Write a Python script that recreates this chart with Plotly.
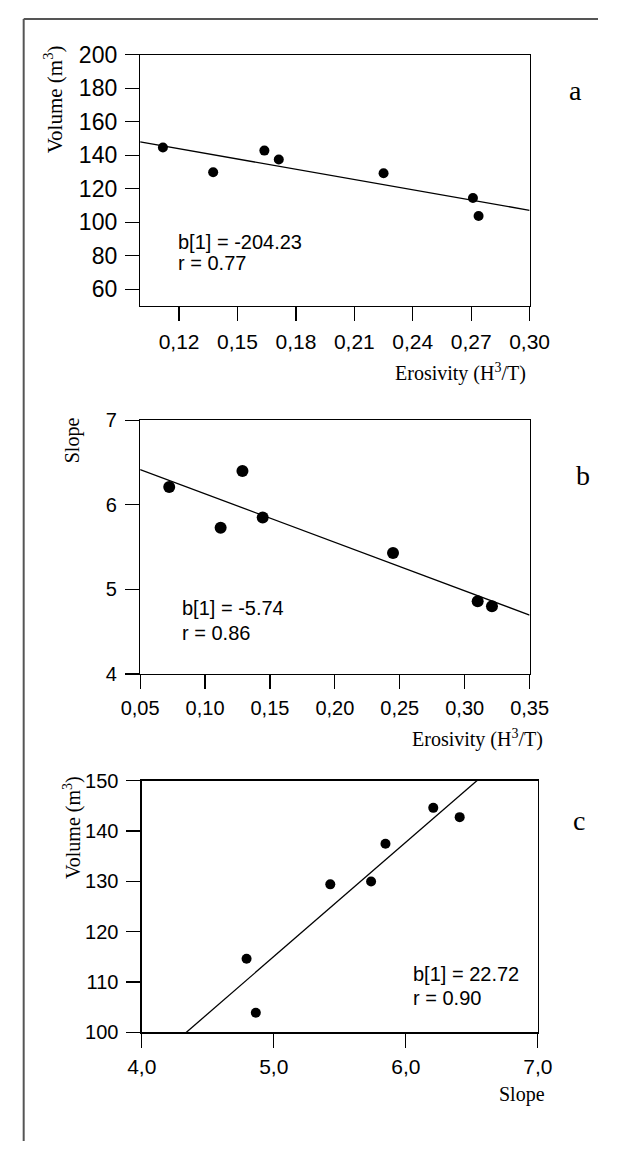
import plotly.graph_objects as go

W, H = 618, 1152

# ---------------- data ----------------
# Panel a: Volume vs Erosivity
a_erosivity = [0.1117, 0.1375, 0.1638, 0.1712, 0.2250, 0.2709, 0.2738]
a_volume = [144.7, 129.9, 142.8, 137.5, 129.3, 114.5, 103.8]
a_b1 = -204.23
a_r = "0.77"
a_xticks = [0.12, 0.15, 0.18, 0.21, 0.24, 0.27, 0.30]
a_xticklabels = ["0,12", "0,15", "0,18", "0,21", "0,24", "0,27", "0,30"]
a_yticks = [60, 80, 100, 120, 140, 160, 180, 200]
a_yticklabels = ["60", "80", "100", "120", "140", "160", "180", "200"]

# Panel b: Slope vs Erosivity
b_erosivity = [0.0724, 0.1120, 0.1288, 0.1444, 0.2448, 0.3100, 0.3210]
b_slope = [6.21, 5.73, 6.40, 5.85, 5.43, 4.86, 4.80]
b_b1 = -5.74
b_r = "0.86"
b_xticks = [0.05, 0.10, 0.15, 0.20, 0.25, 0.30, 0.35]
b_xticklabels = ["0,05", "0,10", "0,15", "0,20", "0,25", "0,30", "0,35"]
b_yticks = [4, 5, 6, 7]
b_yticklabels = ["4", "5", "6", "7"]

# Panel c: Volume vs Slope
c_slope = [4.794, 4.864, 5.428, 5.737, 5.846, 6.208, 6.408]
c_volume = [114.6, 103.9, 129.4, 129.95, 137.45, 144.6, 142.75]
c_b1 = 22.72
c_r = "0.90"
c_xticks = [4, 5, 6, 7]
c_xticklabels = ["4,0", "5,0", "6,0", "7,0"]
c_yticks = [100, 110, 120, 130, 140, 150]
c_yticklabels = ["100", "110", "120", "130", "140", "150"]

SANS = "Liberation Sans, Arial, sans-serif"
SERIF = "Liberation Serif, Times New Roman, serif"


def px(x):
    return x / W


def py(y):
    return 1 - y / H


def fit_line(xs, ys, slope, xr):
    mx = sum(xs) / len(xs)
    my = sum(ys) / len(ys)
    icpt = my - slope * mx
    return list(xr), [icpt + slope * v for v in xr]


fig = go.Figure()

panels = [
    dict(x=a_erosivity, y=a_volume, b1=a_b1, xr=(0.10, 0.30), msize=10, xa="x", ya="y"),
    dict(x=b_erosivity, y=b_slope, b1=b_b1, xr=(0.05, 0.35), msize=12, xa="x2", ya="y2"),
    dict(x=c_slope, y=c_volume, b1=c_b1, xr=(4.0, 7.0), msize=10, xa="x3", ya="y3"),
]

for p in panels:
    lx, ly = fit_line(p["x"], p["y"], p["b1"], p["xr"])
    fig.add_trace(go.Scatter(x=lx, y=ly, mode="lines", line=dict(color="black", width=1.3),
                             xaxis=p["xa"], yaxis=p["ya"], showlegend=False, hoverinfo="skip"))
    fig.add_trace(go.Scatter(x=p["x"], y=p["y"], mode="markers",
                             marker=dict(color="black", size=p["msize"]),
                             xaxis=p["xa"], yaxis=p["ya"], showlegend=False))


def axis(domain, rng, tv, tt, size, anchor, standoff):
    return dict(domain=domain, range=list(rng), tickvals=tv, ticktext=tt,
                ticks="outside", ticklen=14, tickwidth=1.2, tickcolor="black",
                showline=True, linecolor="black", linewidth=1.3, mirror=True,
                showgrid=False, zeroline=False, anchor=anchor,
                tickfont=dict(family=SANS, size=size, color="black"),
                ticklabelstandoff=standoff, fixedrange=True)


fig.update_layout(
    width=W, height=H,
    margin=dict(l=0, r=0, t=0, b=0, pad=0),
    paper_bgcolor="white", plot_bgcolor="white",
    xaxis=axis([px(129.3), px(545)], (0.10, 0.30), a_xticks, a_xticklabels, 21, "y", 2),
    yaxis=axis([py(299.3), py(42.7)], (50, 200), a_yticks, a_yticklabels, 23, "x", 3),
    xaxis2=axis([px(129.3), px(545)], (0.05, 0.35), b_xticks, b_xticklabels, 20, "y2", 2),
    yaxis2=axis([py(675), py(416)], (4, 7), b_yticks, b_yticklabels, 20, "x2", 4),
    xaxis3=axis([px(131), px(553.8)], (4.0, 7.0), c_xticks, c_xticklabels, 21, "y3", 1),
    yaxis3=axis([py(1041), py(784)], (100, 150), c_yticks, c_yticklabels, 20, "x3", 4),
)

ann = []


def text(x, y, s, size, family, xanchor="left", angle=0):
    ann.append(dict(x=px(x), y=py(y), xref="paper", yref="paper", text=s, showarrow=False,
                    xanchor=xanchor, yanchor="middle", textangle=angle,
                    font=dict(family=family, size=size, color="black")))


# regression statistics
text(167.3, 234, f"b[1] = {a_b1:.2f}", 20, SANS)
text(167.3, 255, f"r = {a_r}", 20, SANS)
text(171.5, 608, f"b[1] = {b_b1:.2f}", 20, SANS)
text(171.5, 633, f"r = {b_r}", 20, SANS)
text(418.6, 981, f"b[1] = {c_b1:.2f}", 20, SANS)
text(418.6, 1006, f"r = {c_r}", 20, SANS)

# panel letters
text(594, 79.5, "a", 28, SERIF, "center")
text(602, 472, "b", 28, SERIF, "center")
text(597.5, 825, "c", 28, SERIF, "center")

# axis titles
text(36.5, 88, "Volume (m<sup>3</sup>)", 21, SERIF, "center", -90)
text(58, 436, "Slope", 20, SERIF, "center", -90)
text(57, 832, "Volume (m<sup>3</sup>)", 20, SERIF, "center", -90)
text(543, 367, "Erosivity (H<sup>3</sup>/T)", 20, SERIF, "right")
text(561, 741, "Erosivity (H<sup>3</sup>/T)", 20, SERIF, "right")
text(564, 1104, "Slope", 20, SERIF, "right")

fig.update_layout(annotations=ann)

# outer frame (left and top edges)
fig.add_shape(type="line", xref="paper", yref="paper", x0=px(5), x1=px(5), y0=0, y1=py(6),
              line=dict(color="#555555", width=2))
fig.add_shape(type="line", xref="paper", yref="paper", x0=px(5), x1=1, y0=py(6), y1=py(6),
              line=dict(color="#555555", width=2))

fig.write_html(
    "out.html",
    config={"displayModeBar": False, "staticPlot": True},
    post_script="document.body.style.margin='0';document.body.style.overflow='hidden';",
)
